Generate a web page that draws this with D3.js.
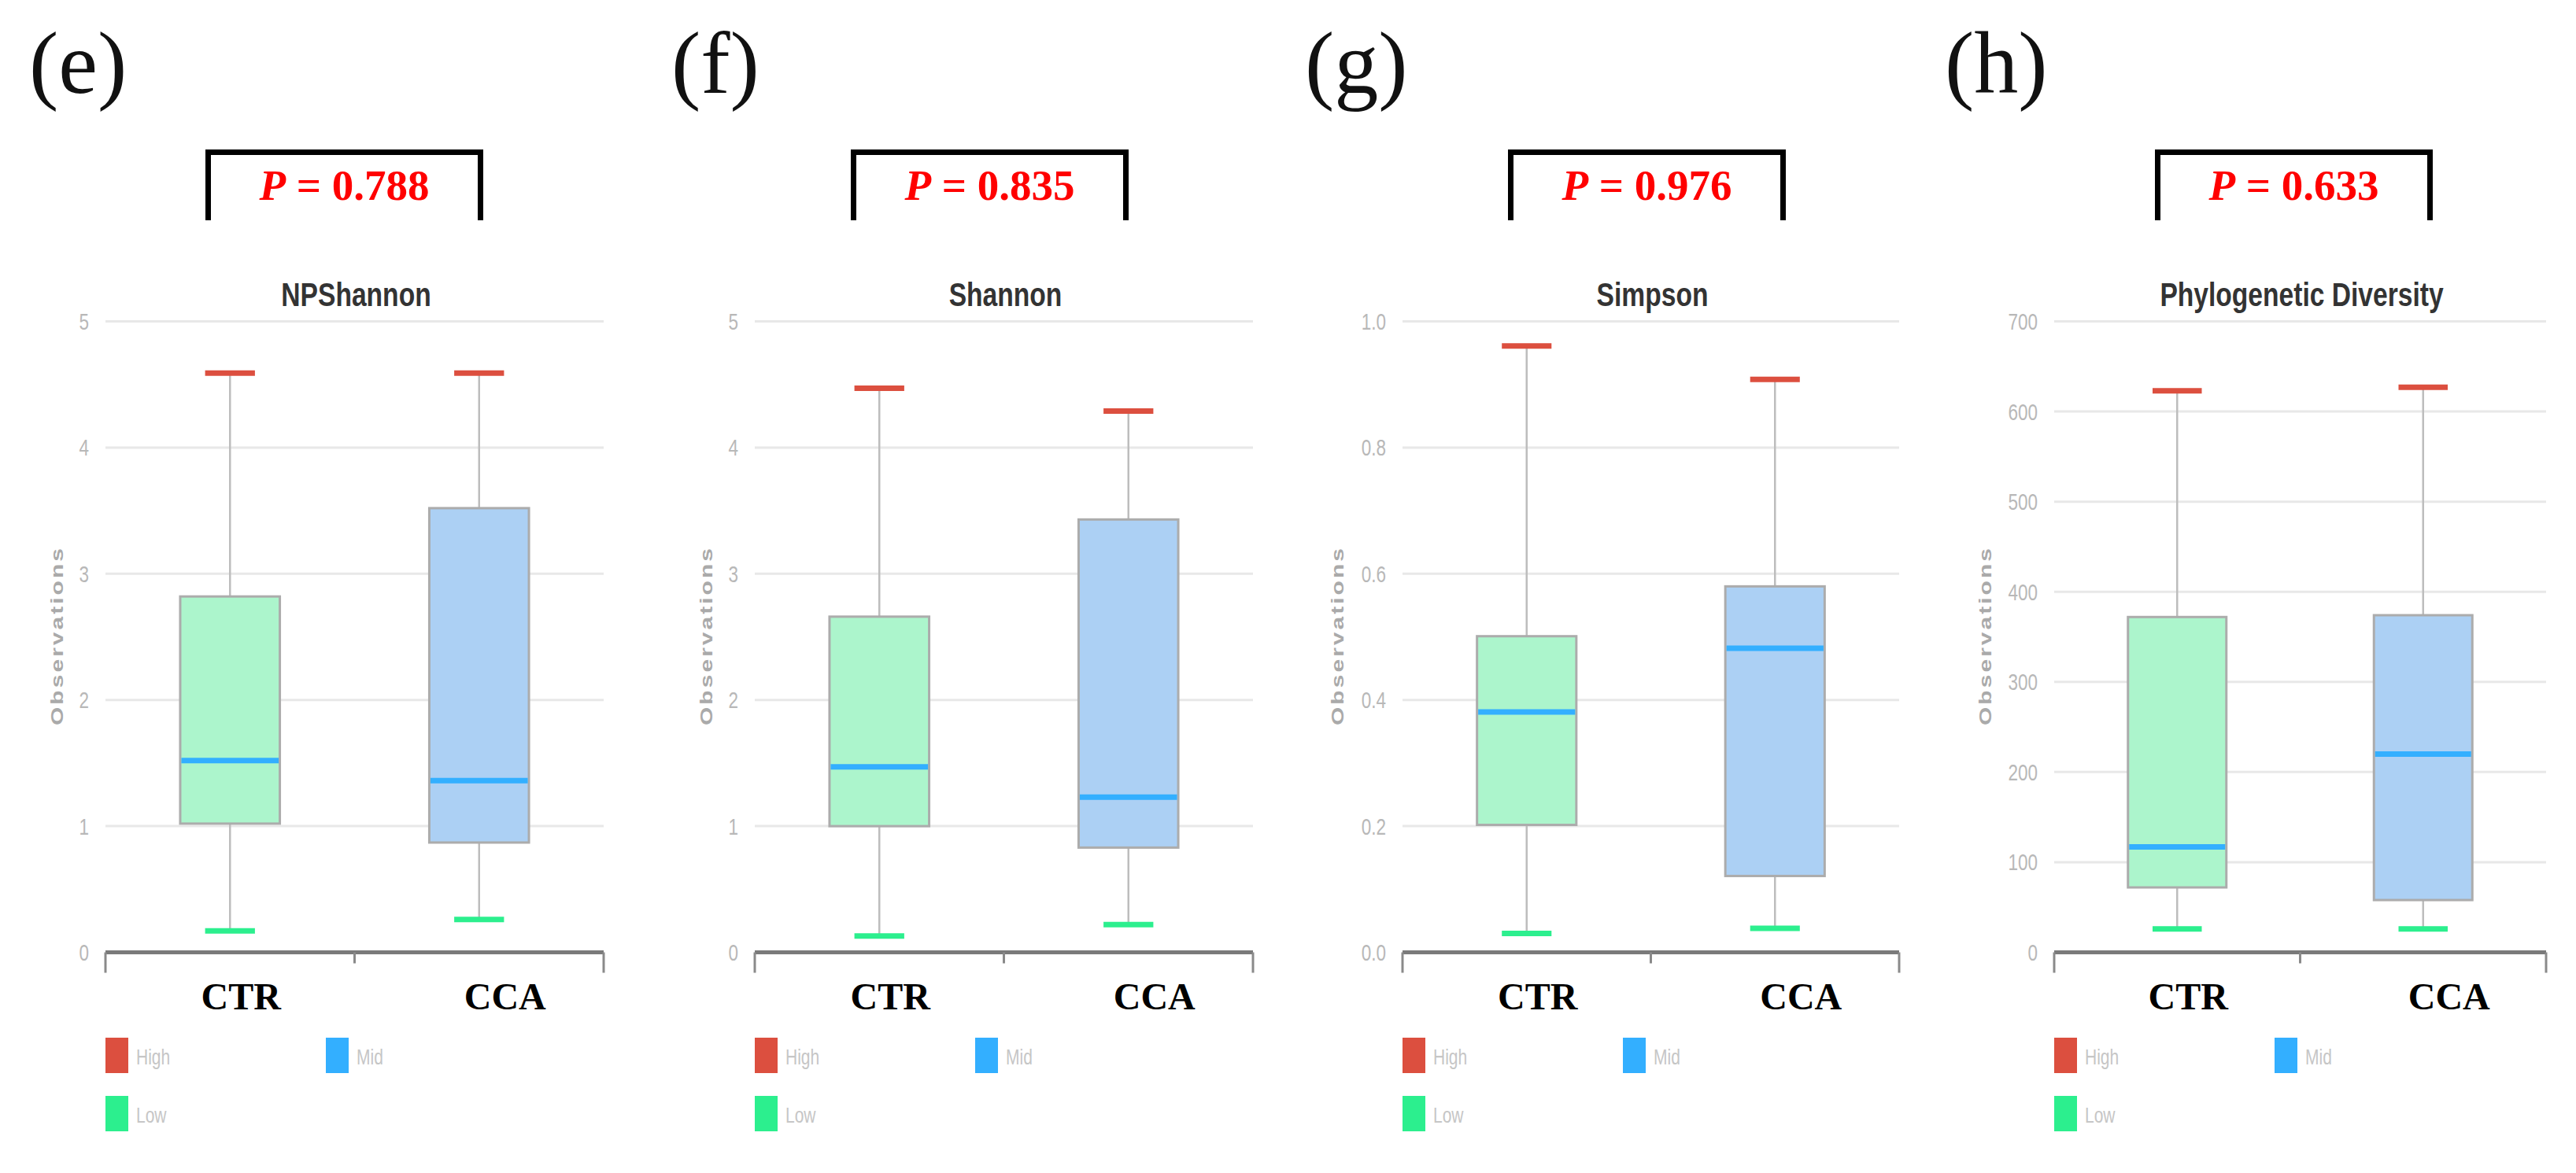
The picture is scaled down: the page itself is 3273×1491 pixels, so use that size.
<!DOCTYPE html>
<html>
<head>
<meta charset="utf-8">
<script src="https://cdn.jsdelivr.net/npm/d3@7"></script>
<style>
  html, body { margin: 0; padding: 0; background: #ffffff; }
  svg { display: block; }
</style>
</head>
<body>
<svg id="chart" width="3273" height="1491"></svg>
<script>
// ---------------- DATA ----------------
const categories = ["CTR", "CCA"];
const panelLetters = ["(e)", "(f)", "(g)", "(h)"];
const panelTitles = ["NPShannon", "Shannon", "Simpson", "Phylogenetic Diversity"];
const pValues = ["0.788", "0.835", "0.976", "0.633"];
const yMaxima = [5, 5, 1.0, 700];
const yTickValues = [
  [0, 1, 2, 3, 4, 5],
  [0, 1, 2, 3, 4, 5],
  [0, 0.2, 0.4, 0.6, 0.8, 1.0],
  [0, 100, 200, 300, 400, 500, 600, 700]
];
const yTickFormats = ["d", "d", ".1f", "d"];
// box stats: [low, q1, median, q3, high]
const npShannonCTR = [0.17, 1.02, 1.52, 2.82, 4.59];
const npShannonCCA = [0.26, 0.87, 1.36, 3.52, 4.59];
const shannonCTR   = [0.13, 1.00, 1.47, 2.66, 4.47];
const shannonCCA   = [0.22, 0.83, 1.23, 3.43, 4.29];
const simpsonCTR   = [0.030, 0.202, 0.381, 0.501, 0.961];
const simpsonCCA   = [0.038, 0.121, 0.482, 0.580, 0.908];
const pdCTR        = [26, 72, 117, 372, 623];
const pdCCA        = [26, 58, 220, 374, 627];
const legendLabels = ["High", "Mid", "Low"];

const panelSeries = [
  [npShannonCTR, npShannonCCA],
  [shannonCTR, shannonCCA],
  [simpsonCTR, simpsonCCA],
  [pdCTR, pdCCA]
];

// ---------------- LAYOUT / STYLE ----------------
const plotLefts  = [134, 959, 1782, 2610];
const plotRights = [767, 1592, 2413, 3235];
const letterX    = [37, 853, 1658, 2471];
const bracketShift = [-13, -18, -5, -8];
const yTitleOffset = [62, 62, 83, 88];
const plotTop = 408.5, plotBottom = 1210.5;
const condense = 0.75;
const colors = {
  high: "#dc4f3f", mid: "#33afff", low: "#2cef8e",
  boxFill: ["#acf5cc", "#acd0f4"], boxStroke: "#acacac",
  whisker: "#bdbdbd", grid: "#e8e8e8", axis: "#7a7a7a"
};
const sans = "'Liberation Sans', Arial, sans-serif";
const serif = "'Liberation Serif', 'Times New Roman', serif";

const svg = d3.select("#chart");
svg.append("rect").attr("width", 3273).attr("height", 1491).attr("fill", "#fff");

function ctext(g, x, y, k, str) {
  return g.append("text")
    .attr("transform", `translate(${x},${y}) scale(${k},1)`)
    .text(str);
}

panelTitles.forEach((title, i) => {
  const g = svg.append("g");
  const x = d3.scaleBand().domain(categories).range([plotLefts[i], plotRights[i]]).paddingInner(0).paddingOuter(0);
  const y = d3.scaleLinear().domain([0, yMaxima[i]]).range([plotBottom, plotTop]);
  const bw = x.bandwidth();
  const boxW = bw * 0.4;
  const fmt = d3.format(yTickFormats[i]);
  const plotCenter = (plotLefts[i] + plotRights[i]) / 2;

  // panel letter
  g.append("text").attr("x", letterX[i]).attr("y", 118)
    .attr("font-family", serif).attr("font-size", 112).attr("fill", "#111")
    .text(panelLetters[i]);

  // significance bracket
  const bc = plotCenter + bracketShift[i];
  const bl = bc - 173, br = bc + 173;
  g.append("path")
    .attr("d", `M${bl},280 V193.5 H${br} V280`)
    .attr("fill", "none").attr("stroke", "#000").attr("stroke-width", 7)
    .attr("stroke-linejoin", "miter");
  const pt = g.append("text").attr("x", bc).attr("y", 254)
    .attr("text-anchor", "middle").attr("font-family", serif)
    .attr("font-weight", "bold").attr("font-size", 55).attr("fill", "#ff0000");
  pt.append("tspan").attr("font-style", "italic").text("P");
  pt.append("tspan").text(" = " + pValues[i]);

  // chart title
  ctext(g, plotCenter + 2, 389, 0.8, title)
    .attr("text-anchor", "middle").attr("font-family", sans)
    .attr("font-weight", "bold").attr("font-size", 42).attr("fill", "#333");

  // gridlines and tick labels
  yTickValues[i].forEach(t => {
    if (t !== 0) {
      g.append("line").attr("x1", plotLefts[i]).attr("x2", plotRights[i])
        .attr("y1", y(t)).attr("y2", y(t))
        .attr("stroke", colors.grid).attr("stroke-width", 3);
    }
    ctext(g, plotLefts[i] - 21, y(t) + 10.5, condense, fmt(t))
      .attr("text-anchor", "end").attr("font-family", sans)
      .attr("font-size", 30).attr("fill", "#b8b8b8");
  });

  // y axis title
  g.append("text")
    .attr("transform", `translate(${plotLefts[i] - yTitleOffset[i] + 8},${(plotTop + plotBottom) / 2}) scale(${condense},1) rotate(-90)`)
    .attr("text-anchor", "middle").attr("font-family", sans).attr("font-weight", "bold")
    .attr("font-size", 30).attr("fill", "#aaaaaa")
    .attr("textLength", 225).attr("lengthAdjust", "spacing")
    .text("Observations");

  // x axis line and ticks at band boundaries
  g.append("line").attr("x1", plotLefts[i]).attr("x2", plotRights[i])
    .attr("y1", y(0)).attr("y2", y(0))
    .attr("stroke", colors.axis).attr("stroke-width", 5);
  const bounds = [x.range()[0], x(categories[1]), x.range()[1]];
  bounds.forEach((bx, j) => {
    g.append("line").attr("x1", bx).attr("x2", bx)
      .attr("y1", y(0)).attr("y2", y(0) + (j === 1 ? 14 : 26))
      .attr("stroke", "#8a8a8a").attr("stroke-width", 3);
  });

  // boxes
  const labelShift = [14, 33];
  categories.forEach((c, j) => {
    const s = panelSeries[i][j];
    const cx = x(c) + bw / 2;
    g.append("line").attr("x1", cx).attr("x2", cx)
      .attr("y1", y(s[4])).attr("y2", y(s[0]))
      .attr("stroke", colors.whisker).attr("stroke-width", 2.5);
    g.append("rect").attr("x", cx - boxW / 2).attr("width", boxW)
      .attr("y", y(s[3])).attr("height", y(s[1]) - y(s[3]))
      .attr("fill", colors.boxFill[j]).attr("stroke", colors.boxStroke).attr("stroke-width", 3);
    g.append("line").attr("x1", cx - boxW / 2 + 1.5).attr("x2", cx + boxW / 2 - 1.5)
      .attr("y1", y(s[2])).attr("y2", y(s[2]))
      .attr("stroke", colors.mid).attr("stroke-width", 7);
    g.append("line").attr("x1", cx - boxW / 4).attr("x2", cx + boxW / 4)
      .attr("y1", y(s[4])).attr("y2", y(s[4]))
      .attr("stroke", colors.high).attr("stroke-width", 7);
    g.append("line").attr("x1", cx - boxW / 4).attr("x2", cx + boxW / 4)
      .attr("y1", y(s[0])).attr("y2", y(s[0]))
      .attr("stroke", colors.low).attr("stroke-width", 7);
    g.append("text").attr("x", cx + labelShift[j]).attr("y", 1283)
      .attr("text-anchor", "middle").attr("font-family", serif)
      .attr("font-weight", "bold").attr("font-size", 48).attr("fill", "#000")
      .text(c);
  });

  // legend
  const legendColors = [colors.high, colors.mid, colors.low];
  const legendPos = [[0, 1319], [280, 1319], [0, 1393]];
  legendLabels.forEach((lab, k) => {
    const lx = plotLefts[i] + legendPos[k][0], ly = legendPos[k][1];
    g.append("rect").attr("x", lx).attr("y", ly).attr("width", 29).attr("height", 45)
      .attr("fill", legendColors[k]);
    ctext(g, lx + 39, ly + 34, condense, lab)
      .attr("font-family", sans).attr("font-size", 28).attr("fill", "#c6c6c6");
  });
});
</script>
</body>
</html>
